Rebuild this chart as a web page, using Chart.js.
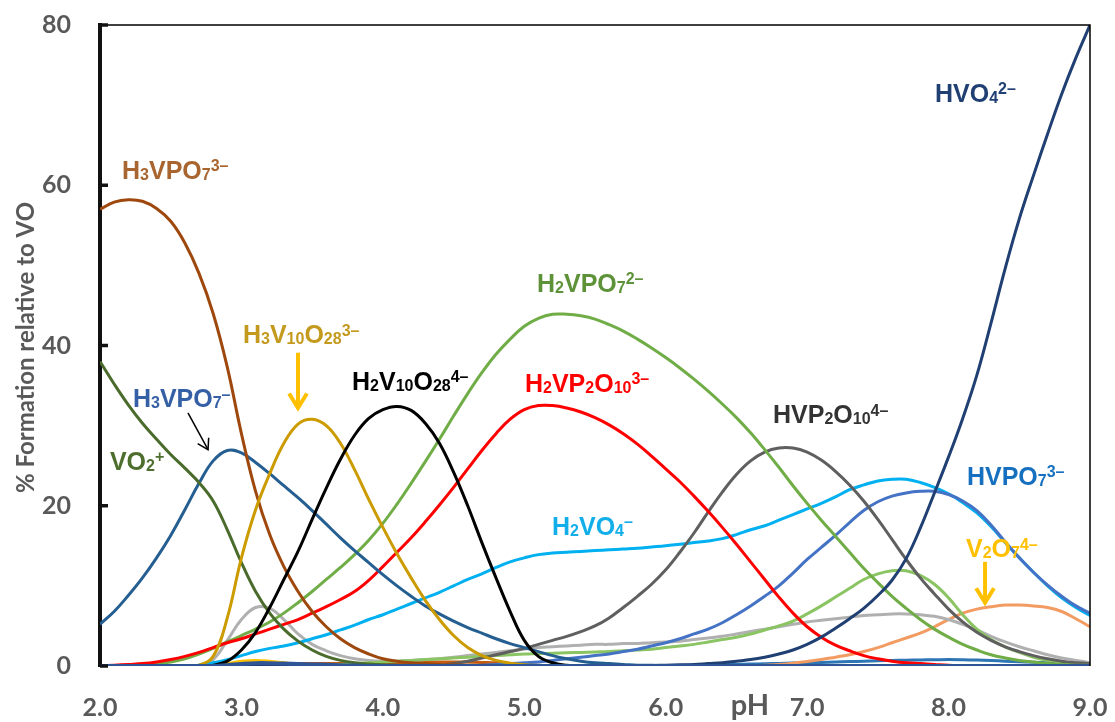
<!DOCTYPE html>
<html>
<head>
<meta charset="utf-8">
<script src="https://cdn.jsdelivr.net/npm/chart.js@4.4.1/dist/chart.umd.min.js"></script>
<style>
  html, body { margin: 0; padding: 0; background: #fff; }
</style>
</head>
<body>
<canvas id="myChart" width="1115" height="722"></canvas>
<script>
// pH grid (x axis)
const ph = [
  2.0, 2.1, 2.2, 2.3, 2.4, 2.5, 2.6, 2.7, 2.8, 2.9,
  3.0, 3.1, 3.2, 3.3, 3.4, 3.5, 3.6, 3.7, 3.8, 3.9,
  4.0, 4.1, 4.2, 4.3, 4.4, 4.5, 4.6, 4.7, 4.8, 4.9,
  5.0, 5.1, 5.2, 5.3, 5.4, 5.5, 5.6, 5.7, 5.8, 5.9,
  6.0, 6.1, 6.2, 6.3, 6.4, 6.5, 6.6, 6.7, 6.8, 6.9,
  7.0, 7.1, 7.2, 7.3, 7.4, 7.5, 7.6, 7.7, 7.8, 7.9,
  8.0, 8.1, 8.2, 8.3, 8.4, 8.5, 8.6, 8.7, 8.8, 8.9,
  9.0
];

// % formation relative to VO, one value per pH above
const h3vpo7_3 = [
  57, 57.9, 58.2, 58, 57.1, 55.5, 52.8, 49, 44, 37.3,
  29, 21.8, 16.4, 12.4, 9.3, 6.8, 4.9, 3.4, 2.3, 1.5,
  0.9, 0.6, 0.4, 0.3, 0.2, 0.15, 0.1, 0.1, 0.05, 0.05,
  0, 0, 0, 0, 0, 0, 0, 0, 0, 0,
  0, 0, 0, 0, 0, 0, 0, 0, 0, 0,
  0, 0, 0, 0, 0, 0, 0, 0, 0, 0,
  0, 0, 0, 0, 0, 0, 0, 0, 0, 0,
  0
];
const vo2 = [
  38, 35.2, 32.6, 30.3, 28.3, 26.4, 24.7, 22.9, 20.6, 17,
  12.9, 9.3, 6.6, 4.6, 3.1, 2, 1.2, 0.7, 0.4, 0.25,
  0.15, 0.1, 0.05, 0, 0, 0, 0, 0, 0, 0,
  0, 0, 0, 0, 0, 0, 0, 0, 0, 0,
  0, 0, 0, 0, 0, 0, 0, 0, 0, 0,
  0, 0, 0, 0, 0, 0, 0, 0, 0, 0,
  0, 0, 0, 0, 0, 0, 0, 0, 0, 0,
  0
];
const h3vpo7_1 = [
  5.2, 6.8, 8.8, 11, 13.5, 16.3, 19.5, 22.8, 25.6, 26.9,
  26.6, 25.4, 24, 22.5, 21, 19.4, 17.7, 16, 14.4, 12.9,
  11.4, 10, 8.7, 7.5, 6.5, 5.6, 4.8, 4.1, 3.4, 2.8,
  2.3, 1.8, 1.3, 0.9, 0.6, 0.4, 0.3, 0.2, 0.1, 0.1,
  0.05, 0, 0, 0, 0, 0, 0, 0, 0, 0,
  0, 0, 0, 0, 0, 0, 0, 0, 0, 0,
  0, 0, 0, 0, 0, 0, 0, 0, 0, 0,
  0
];
const h3v10o28 = [
  0, 0, 0, 0, 0, 0, 0, 0.1, 1.2, 6,
  13.5, 19.5, 24, 27.8, 30.2, 30.8, 30, 27.8, 24.5, 20.8,
  17.3, 14, 11, 8.2, 5.8, 3.8, 2.3, 1.3, 0.7, 0.35,
  0.15, 0.05, 0, 0, 0, 0, 0, 0, 0, 0,
  0, 0, 0, 0, 0, 0, 0, 0, 0, 0,
  0, 0, 0, 0, 0, 0, 0, 0, 0, 0,
  0, 0, 0, 0, 0, 0, 0, 0, 0, 0,
  0
];
const h2v10o28 = [
  0, 0, 0, 0, 0, 0, 0, 0, 0.1, 0.6,
  2, 4.2, 7.3, 10.8, 14.3, 18.3, 22.2, 25.8, 28.8, 30.9,
  32, 32.4, 31.9, 30.3, 27.8, 24.2, 20, 15.4, 11, 6.8,
  3.2, 1.2, 0.4, 0.1, 0, 0, 0, 0, 0, 0,
  0, 0, 0, 0, 0, 0, 0, 0, 0, 0,
  0, 0, 0, 0, 0, 0, 0, 0, 0, 0,
  0, 0, 0, 0, 0, 0, 0, 0, 0, 0,
  0
];
const h2vpo7 = [
  0, 0.05, 0.1, 0.2, 0.3, 0.5, 0.9, 1.5, 2.2, 3.0,
  3.8, 4.6, 5.5, 6.6, 7.9, 9.3, 10.8, 12.3, 13.9, 15.7,
  17.8, 20.2, 22.8, 25.5, 28.3, 31.2, 34, 36.6, 38.9, 40.8,
  42.4, 43.4, 43.9, 43.9, 43.7, 43.3, 42.6, 41.8, 40.8, 39.7,
  38.5, 37.2, 35.8, 34.3, 32.7, 31, 29.1, 27, 24.8, 22.5,
  20.3, 18.2, 16.2, 14.2, 12.2, 10.4, 8.7, 7.2, 5.8, 4.6,
  3.6, 2.7, 2.0, 1.4, 1.0, 0.7, 0.5, 0.3, 0.2, 0.1,
  0.1
];
const h2vp2o10 = [
  0, 0.1, 0.2, 0.3, 0.5, 0.8, 1.2, 1.7, 2.3, 2.9,
  3.4, 4, 4.6, 5.2, 5.8, 6.6, 7.4, 8.3, 9.3, 10.7,
  12.4, 14.2, 16, 18, 20.1, 22.3, 24.6, 26.9, 29, 30.8,
  32, 32.5, 32.5, 32.2, 31.7, 31, 30.1, 29, 27.7, 26.2,
  24.6, 23, 21.2, 19.3, 17.3, 15.2, 13, 10.8, 8.6, 6.6,
  4.9, 3.6, 2.6, 1.9, 1.3, 0.9, 0.6, 0.4, 0.3, 0.2,
  0.1, 0.05, 0, 0, 0, 0, 0, 0, 0, 0,
  0
];
const h2vo4 = [
  0, 0, 0, 0, 0, 0, 0, 0.1, 0.4, 0.8,
  1.3, 1.8, 2.2, 2.5, 2.9, 3.4, 3.9, 4.5, 5.1, 5.8,
  6.4, 7.1, 7.8, 8.5, 9.2, 10, 10.8, 11.5, 12.3, 13,
  13.5, 13.9, 14.1, 14.2, 14.3, 14.4, 14.5, 14.6, 14.7, 14.85,
  15, 15.2, 15.4, 15.6, 15.9, 16.4, 17, 17.5, 18.2, 18.9,
  19.6, 20.3, 21.1, 22, 22.6, 23.1, 23.3, 23.3, 22.9, 22.3,
  21.5, 20.4, 19.1, 17.4, 15.4, 13.5, 11.7, 10, 8.5, 7.3,
  6.3
];
const hvpo7 = [
  0, 0, 0, 0, 0, 0, 0, 0, 0, 0,
  0, 0, 0, 0, 0, 0, 0, 0, 0, 0,
  0, 0, 0, 0, 0, 0, 0.05, 0.1, 0.2, 0.3,
  0.4, 0.5, 0.7, 0.9, 1.1, 1.3, 1.5, 1.8, 2.1, 2.5,
  2.9, 3.4, 4, 4.6, 5.4, 6.4, 7.5, 8.7, 10, 11.6,
  13.3, 14.8, 16.3, 17.9, 19.4, 20.5, 21.2, 21.6, 21.8, 21.8,
  21.4, 20.6, 19.4, 17.6, 15.5, 13.5, 11.7, 10.1, 8.7, 7.5,
  6.6
];
const hvp2o10 = [
  0, 0, 0, 0, 0, 0, 0, 0, 0, 0,
  0, 0, 0, 0, 0, 0, 0, 0, 0, 0,
  0, 0, 0, 0, 0.1, 0.3, 0.6, 1.0, 1.4, 1.8,
  2.2, 2.7, 3.2, 3.7, 4.3, 5.0, 6.0, 7.3, 8.7, 10.2,
  12.0, 14.2, 16.6, 19.2, 21.7, 23.9, 25.6, 26.7, 27.2, 27.2,
  26.7, 25.7, 24.3, 22.6, 20.6, 18.3, 15.8, 13.3, 11, 9,
  7.1, 5.5, 4.2, 3.2, 2.4, 1.8, 1.3, 0.9, 0.6, 0.4,
  0.3
];
const hvo4 = [
  0, 0, 0, 0, 0, 0, 0, 0, 0, 0,
  0, 0, 0, 0, 0, 0, 0, 0, 0, 0,
  0, 0, 0, 0, 0, 0, 0, 0, 0, 0,
  0, 0, 0, 0, 0, 0, 0, 0, 0.05, 0.05,
  0.1, 0.15, 0.2, 0.3, 0.4, 0.6, 0.8, 1.1, 1.5, 2,
  2.7, 3.6, 4.7, 5.9, 7.2, 8.8, 10.7, 13.4, 17.2, 21.6,
  26.1, 30.9, 36.3, 42.8, 49.6, 55.8, 61.2, 66.4, 71.4, 75.9,
  80
];
const greySeries = [
  0, 0, 0, 0, 0, 0, 0, 0.1, 0.8, 3.2,
  5.8, 7.3, 7.2, 5.8, 4, 2.7, 1.9, 1.3, 0.9, 0.7,
  0.6, 0.6, 0.7, 0.8, 0.9, 1.1, 1.3, 1.5, 1.7, 1.9,
  2.1, 2.3, 2.4, 2.5, 2.6, 2.7, 2.7, 2.8, 2.8, 2.9,
  3.0, 3.1, 3.3, 3.5, 3.7, 4, 4.3, 4.6, 4.9, 5.2,
  5.5, 5.7, 5.9, 6.1, 6.3, 6.4, 6.5, 6.5, 6.4, 6.2,
  5.8, 5.2, 4.5, 3.7, 3, 2.4, 1.9, 1.4, 1, 0.7,
  0.4
];
const lightGreenSeries = [
  0, 0, 0, 0, 0, 0, 0, 0, 0, 0,
  0, 0, 0, 0, 0, 0.1, 0.15, 0.2, 0.3, 0.4,
  0.5, 0.6, 0.7, 0.8, 0.9, 1.0, 1.1, 1.2, 1.3, 1.4,
  1.5, 1.55, 1.6, 1.65, 1.7, 1.75, 1.8, 1.9, 2.0, 2.1,
  2.3, 2.5, 2.7, 3.0, 3.3, 3.6, 4.0, 4.5, 5.0, 5.6,
  6.5, 7.5, 8.6, 9.7, 10.8, 11.5, 11.9, 11.9, 11.3, 10.2,
  8.5, 6.4, 4.6, 3.3, 2.4, 1.7, 1.1, 0.7, 0.5, 0.3,
  0.2
];
const v2o7 = [
  0, 0, 0, 0, 0, 0, 0, 0, 0, 0,
  0, 0, 0, 0, 0, 0, 0, 0, 0, 0,
  0, 0, 0, 0, 0, 0, 0, 0, 0, 0,
  0, 0, 0, 0, 0, 0, 0, 0, 0, 0,
  0, 0, 0, 0, 0, 0, 0, 0.1, 0.2, 0.35,
  0.55, 0.8, 1.1, 1.4, 1.8, 2.3, 2.9, 3.5, 4.1, 4.9,
  5.8, 6.6, 7.1, 7.4, 7.6, 7.6, 7.5, 7.3, 6.8, 5.9,
  4.9
];
const darkOrangeSeries = [
  0, 0, 0, 0, 0, 0, 0, 0, 0.05, 0.1,
  0.2, 0.25, 0.3, 0.3, 0.3, 0.3, 0.3, 0.3, 0.3, 0.3,
  0.3, 0.4, 0.45, 0.5, 0.5, 0.5, 0.5, 0.45, 0.4, 0.3,
  0.2, 0.1, 0.05, 0, 0, 0, 0, 0, 0, 0,
  0, 0, 0, 0, 0, 0, 0, 0, 0, 0,
  0, 0, 0, 0, 0, 0, 0, 0, 0, 0,
  0, 0, 0, 0, 0, 0, 0, 0, 0, 0,
  0
];
const yellowSeries = [
  0, 0, 0, 0, 0, 0, 0, 0, 0.1, 0.3,
  0.6, 0.7, 0.6, 0.4, 0.2, 0.1, 0, 0, 0, 0,
  0, 0, 0, 0, 0, 0, 0, 0, 0, 0,
  0, 0, 0, 0, 0, 0, 0, 0, 0, 0,
  0, 0, 0, 0, 0, 0, 0, 0, 0, 0,
  0, 0, 0, 0, 0, 0, 0, 0, 0, 0,
  0, 0, 0, 0, 0, 0, 0, 0, 0, 0,
  0
];
const smallBlueSeries = [
  0, 0, 0, 0, 0, 0, 0, 0, 0, 0,
  0, 0, 0, 0, 0, 0, 0, 0, 0, 0,
  0, 0, 0, 0, 0, 0, 0, 0, 0, 0,
  0, 0, 0, 0, 0, 0, 0, 0, 0, 0,
  0.05, 0.07, 0.1, 0.12, 0.15, 0.2, 0.24, 0.28, 0.32, 0.36,
  0.4, 0.45, 0.5, 0.55, 0.6, 0.65, 0.7, 0.73, 0.76, 0.78,
  0.8, 0.78, 0.74, 0.68, 0.6, 0.52, 0.46, 0.4, 0.36, 0.32,
  0.3
];
const baseBlueSeries = [
  0, 0, 0, 0, 0, 0, 0, 0, 0, 0.1,
  0.25, 0.35, 0.35, 0.3, 0.25, 0.2, 0.15, 0.1, 0.05, 0,
  0, 0, 0, 0, 0, 0, 0, 0, 0, 0,
  0, 0, 0, 0, 0, 0, 0, 0, 0, 0,
  0, 0, 0, 0, 0, 0, 0, 0, 0, 0,
  0, 0, 0, 0, 0, 0, 0, 0, 0, 0,
  0, 0, 0, 0, 0, 0, 0, 0, 0, 0,
  0
];

const yTicks = [0, 20, 40, 60, 80];
const xTicks = [2, 3, 4, 5, 6, 7, 8, 9];

const tickColor = '#595959';
const labelFont = '"Liberation Sans", Arial, sans-serif';

// first dataset is drawn on top
const series = [
  { data: baseBlueSeries, color: '#2F5597', width: 4 },
  { data: hvo4, color: '#203F72', width: 3 },
  { data: h2v10o28, color: '#000000', width: 3 },
  { data: h3v10o28, color: '#CC9B00', width: 3 },
  { data: h3vpo7_3, color: '#9E480E', width: 3 },
  { data: vo2, color: '#4A6B2C', width: 3 },
  { data: h3vpo7_1, color: '#255E91', width: 3 },
  { data: h2vp2o10, color: '#FF0000', width: 3 },
  { data: h2vpo7, color: '#70AD47', width: 3 },
  { data: hvp2o10, color: '#5F5F5F', width: 3 },
  { data: hvpo7, color: '#4472C4', width: 3 },
  { data: h2vo4, color: '#00B0F0', width: 3 },
  { data: lightGreenSeries, color: '#8BC462', width: 3 },
  { data: greySeries, color: '#B0B0B0', width: 3 },
  { data: v2o7, color: '#F29B62', width: 3 },
  { data: yellowSeries, color: '#FFC000', width: 3 },
  { data: smallBlueSeries, color: '#2E75B6', width: 3 },
  { data: darkOrangeSeries, color: '#C55A11', width: 3 }
];

// species labels, placed in data units (pH, %)
const speciesLabels = [
  { x: 2.156, y: 60.8, color: '#A8652F', parts: [['H'], ['3', 'sub'], ['VPO'], ['7', 'sub'], ['3–', 'sup']] },
  { x: 2.07, y: 24.5, color: '#4E6E2E', parts: [['VO'], ['2', 'sub'], ['+', 'sup']] },
  { x: 2.233, y: 32.3, color: '#3560A6', parts: [['H'], ['3', 'sub'], ['VPO'], ['7', 'sub'], ['–', 'sup']] },
  { x: 3.011, y: 40.3, color: '#C49A1E', parts: [['H'], ['3', 'sub'], ['V'], ['10', 'sub'], ['O'], ['28', 'sub'], ['3–', 'sup']] },
  { x: 3.782, y: 34.5, color: '#000000', parts: [['H'], ['2', 'sub'], ['V'], ['10', 'sub'], ['O'], ['28', 'sub'], ['4–', 'sup']] },
  { x: 5.09, y: 46.7, color: '#5E9238', parts: [['H'], ['2', 'sub'], ['VPO'], ['7', 'sub'], ['2–', 'sup']] },
  { x: 5.005, y: 34.2, color: '#FF0000', parts: [['H'], ['2', 'sub'], ['VP'], ['2', 'sub'], ['O'], ['10', 'sub'], ['3–', 'sup']] },
  { x: 5.196, y: 16.35, color: '#12AEEA', parts: [['H'], ['2', 'sub'], ['VO'], ['4', 'sub'], ['–', 'sup']] },
  { x: 6.759, y: 30.3, color: '#333333', parts: [['HVP'], ['2', 'sub'], ['O'], ['10', 'sub'], ['4–', 'sup']] },
  { x: 8.13, y: 22.6, color: '#1670BF', parts: [['HVPO'], ['7', 'sub'], ['3–', 'sup']] },
  { x: 8.123, y: 13.6, color: '#FFC000', parts: [['V'], ['2', 'sub'], ['O'], ['7', 'sub'], ['4–', 'sup']] },
  { x: 7.904, y: 70.4, color: '#203F72', parts: [['HVO'], ['4', 'sub'], ['2–', 'sup']] }
];

const arrows = [
  { x1: 2.622, y1: 31.6, x2: 2.764, y2: 27.0, color: '#000000', width: 1.5, head: 12 },
  { x1: 3.40, y1: 39.1, x2: 3.40, y2: 32.2, color: '#FFC000', width: 4, head: 17 },
  { x1: 8.258, y1: 13.0, x2: 8.258, y2: 7.9, color: '#FFC000', width: 4, head: 17 }
];

function drawRich(ctx, x, y, parts, color, size) {
  let cx = x;
  ctx.fillStyle = color;
  ctx.textBaseline = 'alphabetic';
  ctx.textAlign = 'left';
  parts.forEach(p => {
    const t = p[0], kind = p[1];
    let s = size, dy = 0;
    if (kind === 'sub') { s = size * 0.64; dy = 1; }
    if (kind === 'sup') { s = size * 0.64; dy = -size * 0.3; }
    ctx.font = 'bold ' + s + 'px ' + labelFont;
    ctx.fillText(t, cx, y + dy);
    cx += ctx.measureText(t).width;
  });
}

function drawArrow(ctx, a, xs, ys) {
  const x1 = xs.getPixelForValue(a.x1), y1 = ys.getPixelForValue(a.y1);
  const x2 = xs.getPixelForValue(a.x2), y2 = ys.getPixelForValue(a.y2);
  const ang = Math.atan2(y2 - y1, x2 - x1);
  ctx.strokeStyle = a.color;
  ctx.lineWidth = a.width;
  ctx.lineCap = 'butt';
  ctx.lineJoin = 'miter';
  ctx.beginPath();
  ctx.moveTo(x1, y1);
  ctx.lineTo(x2, y2);
  ctx.stroke();
  ctx.beginPath();
  ctx.moveTo(x2 - a.head * Math.cos(ang - 0.55), y2 - a.head * Math.sin(ang - 0.55));
  ctx.lineTo(x2, y2);
  ctx.lineTo(x2 - a.head * Math.cos(ang + 0.55), y2 - a.head * Math.sin(ang + 0.55));
  ctx.stroke();
}

const decorations = {
  id: 'decorations',
  afterDatasetsDraw(chart) {
    const ctx = chart.ctx;
    const area = chart.chartArea;
    const xs = chart.scales.x, ys = chart.scales.y;
    ctx.save();

    // thin frame on top and right
    ctx.strokeStyle = '#000';
    ctx.lineWidth = 1.5;
    ctx.beginPath();
    ctx.moveTo(area.left, area.top);
    ctx.lineTo(area.right, area.top);
    ctx.lineTo(area.right, area.bottom);
    ctx.stroke();

    // inward ticks on the y axis
    ctx.strokeStyle = '#111';
    ctx.lineWidth = 3.5;
    yTicks.forEach(v => {
      const py = ys.getPixelForValue(v);
      ctx.beginPath();
      ctx.moveTo(area.left, py);
      ctx.lineTo(area.left + 8, py);
      ctx.stroke();
    });

    speciesLabels.forEach(l => {
      drawRich(ctx, xs.getPixelForValue(l.x), ys.getPixelForValue(l.y), l.parts, l.color, 25);
    });
    arrows.forEach(a => drawArrow(ctx, a, xs, ys));

    // axis titles
    ctx.fillStyle = tickColor;
    ctx.font = 'bold 29px Lato, sans-serif';
    ctx.textAlign = 'left';
    ctx.textBaseline = 'alphabetic';
    ctx.fillText('pH', xs.getPixelForValue(6.46), area.bottom + 49);

    ctx.translate(26, (area.top + area.bottom) / 2 + 2);
    ctx.rotate(-Math.PI / 2);
    ctx.textAlign = 'center';
    ctx.textBaseline = 'middle';
    ctx.font = 'bold 24px Lato, sans-serif';
    ctx.fillText('% Formation relative to VO', 0, 0);

    ctx.restore();
  }
};

const ctx = document.getElementById('myChart').getContext('2d');
const chart = new Chart(ctx, {
  type: 'line',
  data: {
    datasets: series.map(s => ({
      data: ph.map((p, i) => ({ x: p, y: s.data[i] })),
      borderColor: s.color,
      borderWidth: s.width,
      pointRadius: 0,
      fill: false,
      tension: 0.4
    }))
  },
  options: {
    responsive: false,
    animation: false,
    layout: { padding: { top: 25, right: 25, left: 0, bottom: 0 } },
    plugins: {
      legend: { display: false },
      tooltip: { enabled: false }
    },
    scales: {
      x: {
        type: 'linear',
        min: 2,
        max: 9,
        afterFit: scale => {
          scale.height = 56;
          scale.paddingLeft = 0;
          scale.paddingRight = 0;
        },
        afterBuildTicks: scale => { scale.ticks = xTicks.map(v => ({ value: v })); },
        grid: { display: false, drawTicks: false },
        border: { display: false },
        ticks: {
          padding: 27,
          color: tickColor,
          font: { family: 'Lato', weight: 'bold', size: 25 },
          maxRotation: 0,
          callback: v => v.toFixed(1)
        }
      },
      y: {
        min: 0,
        max: 80,
        afterFit: scale => {
          scale.width = 100;
          scale.paddingTop = 0;
          scale.paddingBottom = 0;
        },
        afterBuildTicks: scale => { scale.ticks = yTicks.map(v => ({ value: v })); },
        grid: { display: false, drawTicks: false },
        border: { display: true, color: '#111', width: 4 },
        ticks: {
          padding: 29,
          color: tickColor,
          font: { family: 'Lato', weight: 'bold', size: 25 }
        }
      }
    }
  },
  plugins: [decorations]
});
</script>
</body>
</html>
